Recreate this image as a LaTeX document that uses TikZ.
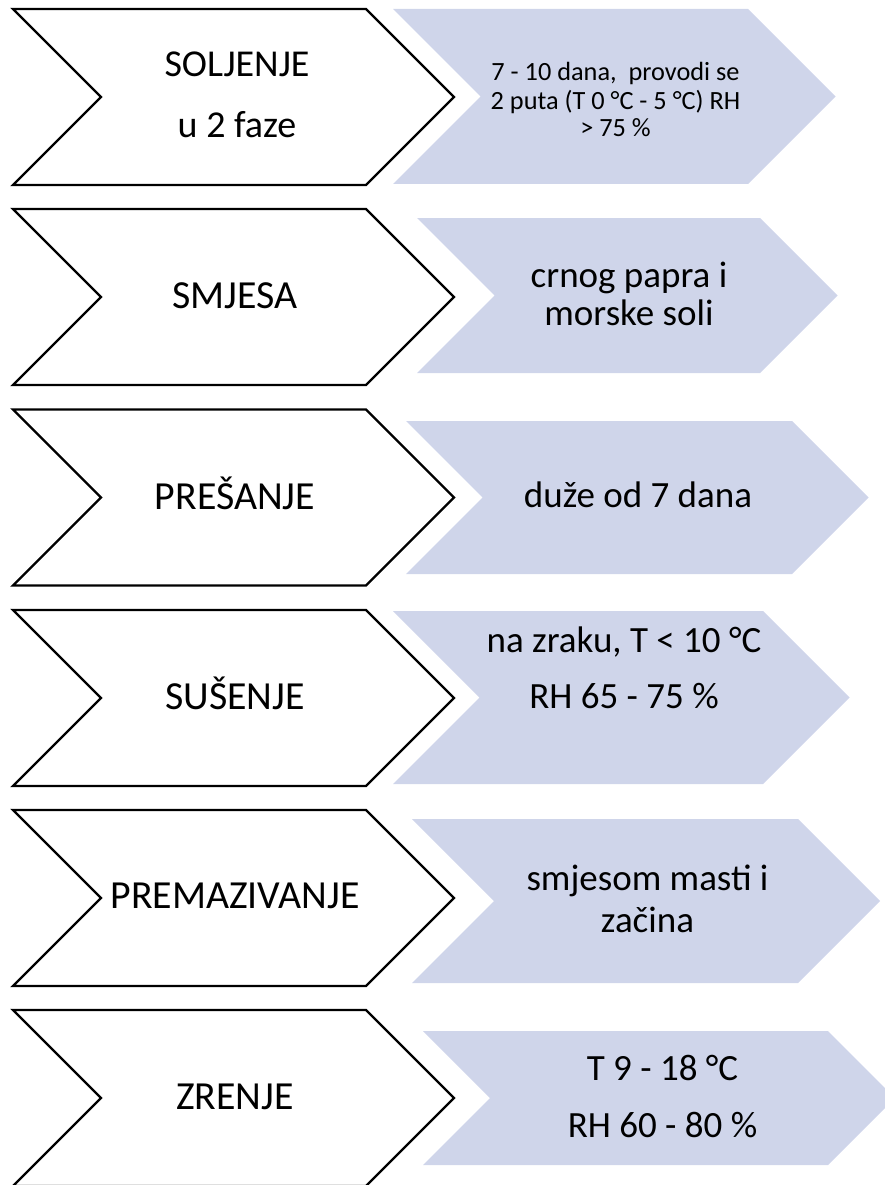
\documentclass[tikz,border=0pt]{standalone}
\usepackage{fontspec}
\setmainfont{Carlito}
\definecolor{chevfill}{RGB}{207,213,234}
\newcommand\mychev[5]{%
  \pgfmathsetmacro\chD{(#3-#2)/2}%
  \pgfmathsetmacro\chM{(#3+#2)/2}%
  \path[#1] (#4,#2) -- (#5,#2) -- ({#5+\chD},\chM) -- (#5,#3) -- (#4,#3) -- ({#4+\chD},\chM) -- cycle;%
}
\tikzset{
  leftchev/.style={draw=black, line width=2.4pt, fill=white, line join=miter},
  rightchev/.style={fill=chevfill},
  head/.style={font=\fontsize{39.8}{46}\selectfont, anchor=base, inner sep=0pt},
  headA/.style={font=\fontsize{38}{44}\selectfont, anchor=base, inner sep=0pt},
  big/.style={font=\fontsize{37}{44}\selectfont, anchor=base, inner sep=0pt},
  small/.style={font=\fontsize{26.3}{32}\selectfont, anchor=base, inner sep=0pt}
}
\begin{document}
\begin{tikzpicture}[x=1pt,y=-1pt]
\useasboundingbox (0,0) rectangle (885,1185);
\clip (0,0) rectangle (885,1185);
% left chevrons
\mychev{leftchev}{9}{185}{13}{366}
\mychev{leftchev}{209}{385}{13}{366}
\mychev{leftchev}{409.5}{585.5}{13}{366}
\mychev{leftchev}{610}{786}{13}{366}
\mychev{leftchev}{810}{986}{13}{366}
\mychev{leftchev}{1010}{1186}{13}{366}
% right chevrons
\mychev{rightchev}{9}{184}{393}{748}
\mychev{rightchev}{218}{373}{417}{760}
\mychev{rightchev}{421}{574}{406}{792}
\mychev{rightchev}{611}{784}{393}{763}
\mychev{rightchev}{819}{983}{412}{798}
\mychev{rightchev}{1031}{1165}{423}{828}
% left texts
\node[headA] (l1a) at (237,77) {SOLJENJE};
\node[headA] (l1b) at (237,138) {u 2 faze};
\node[head] (l2) at (235,308) {SMJESA};
\node[head] (l3) at (235,509) {PREŠANJE};
\node[head] (l4) at (235,709) {SUŠENJE};
\node[head] (l5) at (235,908) {PREMAZIVANJE};
\node[head] (l6) at (235,1109) {ZRENJE};
% right texts
\node[small] (r1a) at (615.5,81) {7 - 10 dana,~ provodi se};
\node[small] (r1b) at (615.5,110) {2 puta (T 0 °C - 5 °C) RH};
\node[small] (r1c) at (615.5,137) {> 75 \%};
\node[big] (r2a) at (629,287) {crnog papra i};
\node[big] (r2b) at (629,325) {morske soli};
\node[big] (r3) at (638,507) {duže od 7 dana};
\node[big] (r4a) at (624,652) {na zraku, T < 10 °C};
\node[big] (r4b) at (624,708) {RH 65 - 75 \%};
\node[big] (r5a) at (647.5,890) {smjesom masti i};
\node[big] (r5b) at (647.5,932) {začina};
\node[big] (r6a) at (662.5,1080) {T 9 - 18 °C};
\node[big] (r6b) at (662.5,1137) {RH 60 - 80 \%};
\end{tikzpicture}
\end{document}
